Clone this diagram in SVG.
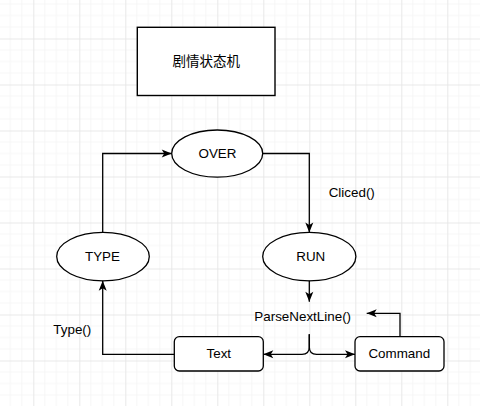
<svg xmlns="http://www.w3.org/2000/svg" width="480" height="406" viewBox="0 0 480 406">
<defs>
<pattern id="grid" patternUnits="userSpaceOnUse" x="33.3" y="38.5" width="46" height="46">
<path d="M11.5,0 V46 M23,0 V46 M34.5,0 V46 M0,11.5 H46 M0,23 H46 M0,34.5 H46" stroke="#f6f6f6" stroke-width="1" fill="none"/>
<path d="M0.5,0 V46 M0,0.5 H46" stroke="#e8e8e8" stroke-width="1" fill="none"/>
</pattern>
<marker id="arr" markerUnits="userSpaceOnUse" markerWidth="12" markerHeight="10" viewBox="-11 -5 12 10" refX="0" refY="0" orient="auto">
<path d="M0,0 L-10,-4 L-7.5,0 L-10,4 Z" fill="#000"/>
</marker>
</defs>
<style>
.node{fill:#fff;stroke:#000;stroke-width:1.3}
.lbl{font-family:"Liberation Sans",Arial,"Noto Sans CJK SC",sans-serif;font-size:13.4px;fill:#000;dominant-baseline:central}
.mid{text-anchor:middle}
.edge{fill:none;stroke:#000;stroke-width:1.3;marker-end:url(#arr)}
</style>
<rect width="480" height="406" fill="#fff"/>
<rect width="480" height="406" fill="url(#grid)"/>

<g id="title">
<rect class="node" x="137.3" y="27.3" width="137.7" height="68.2" style="stroke-width:1.4"/>
<text class="lbl mid" x="206.2" y="61.4" style="font-size:13.5px">剧情状态机</text>
</g>
<g id="over">
<ellipse class="node" cx="217.2" cy="153.6" rx="45.5" ry="23.6"/>
<text class="lbl mid" x="217.5" y="153.8">OVER</text>
</g>
<g id="type">
<ellipse class="node" cx="103" cy="256.6" rx="46.3" ry="24.2"/>
<text class="lbl mid" x="102.5" y="256.8">TYPE</text>
</g>
<g id="run">
<ellipse class="node" cx="309.3" cy="256.6" rx="46.6" ry="24.2"/>
<text class="lbl mid" x="310.8" y="256.8">RUN</text>
</g>
<g id="parse">
<text class="lbl mid" x="302.7" y="316.7">ParseNextLine()</text>
</g>
<g id="text">
<rect class="node" x="174.3" y="336.7" width="89" height="34.3" rx="5"/>
<text class="lbl mid" x="218.8" y="353.8">Text</text>
</g>
<g id="command">
<rect class="node" x="355" y="336.7" width="89" height="34.3" rx="5"/>
<text class="lbl mid" x="399.3" y="353.8">Command</text>
</g>

<g id="connectors">
<path class="edge" d="M102.7,232.4 V153.5 H171.7"/>
<path class="edge" d="M262.7,153.5 H309.3 V232.4"/>
<path class="edge" d="M309.3,280.8 V301.7"/>
<path class="edge" d="M309.3,334.3 V347 Q309.3,354.3 302,354.3 H263.3"/>
<path class="edge" d="M309.3,334.3 V347 Q309.3,354.3 316.6,354.3 H355"/>
<path class="edge" d="M174.3,354.3 H102.7 V280.8"/>
<path class="edge" d="M400,336.7 V313.3 H366.7"/>
<text class="lbl" x="328.7" y="192.7">Cliced()</text>
<text class="lbl" x="53.3" y="329.3">Type()</text>
</g>
</svg>
